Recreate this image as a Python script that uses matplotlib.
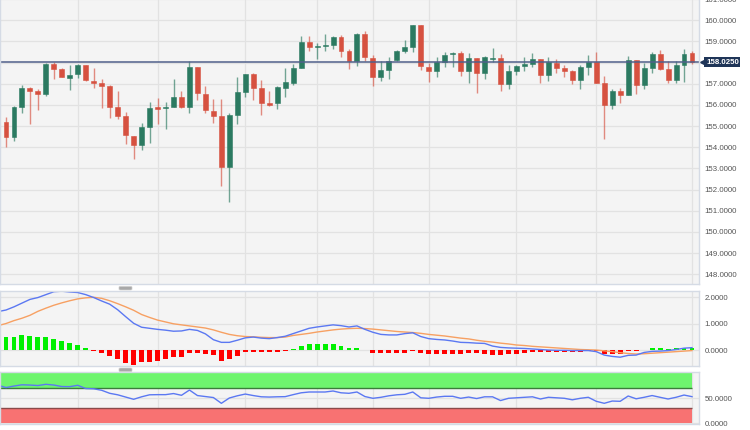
import numpy as np
import matplotlib.pyplot as plt
import matplotlib.transforms as mtransforms
from matplotlib.patches import FancyBboxPatch

plt.rcParams['font.family'] = ['Liberation Sans', 'DejaVu Sans']

# ---- data ----
opens = [155.22, 155.20, 154.47, 155.92, 156.79, 156.66, 156.52, 157.92, 157.69, 157.28,
         157.46, 157.87, 157.15, 157.02, 156.90, 155.89, 155.48, 154.54, 154.13, 154.98,
         155.87, 155.84, 155.89, 156.36, 155.89, 157.78, 156.52, 155.73, 155.48, 153.09,
         155.53, 156.63, 157.46, 156.79, 156.10, 156.08, 156.80, 157.02, 157.76, 158.98,
         158.73, 158.77, 158.83, 159.23, 158.57, 158.09, 159.34, 158.22, 157.34, 157.65,
         158.13, 158.54, 158.76, 159.76, 157.81, 157.59, 158.03, 158.41, 158.44, 157.59,
         158.22, 157.50, 158.17, 158.22, 156.98, 157.59, 157.84, 157.94, 158.17, 157.40,
         158.00, 157.75, 157.62, 157.17, 157.78, 158.03, 157.02, 155.98, 156.66, 156.49,
         158.13, 156.96, 157.73, 158.39, 157.71, 157.18, 157.87, 158.47]
highs = [155.26, 155.42, 155.95, 156.94, 156.83, 156.74, 158.00, 158.03, 157.73, 157.89,
         157.94, 157.91, 157.73, 157.21, 156.94, 156.68, 155.69, 154.54, 155.13, 156.14,
         156.35, 156.16, 157.21, 156.66, 158.08, 157.81, 156.90, 156.27, 156.27, 155.61,
         157.31, 157.46, 157.53, 157.19, 156.66, 156.90, 157.73, 157.94, 159.26, 159.26,
         158.94, 159.35, 159.26, 159.32, 158.63, 159.42, 159.50, 158.36, 158.06, 158.28,
         158.60, 159.07, 159.76, 159.76, 157.97, 158.25, 158.50, 158.50, 158.54, 158.44,
         158.22, 158.31, 158.68, 158.41, 157.91, 157.91, 158.25, 158.44, 158.17, 158.25,
         158.19, 157.91, 157.65, 157.87, 158.38, 158.52, 157.37, 156.77, 156.80, 158.32,
         158.13, 158.00, 158.50, 158.58, 158.06, 158.06, 158.65, 158.54]
lows = [155.15, 154.03, 154.31, 155.64, 155.10, 155.76, 156.43, 157.23, 157.31, 156.71,
        157.28, 157.15, 156.80, 155.86, 155.39, 155.32, 154.16, 153.43, 153.87, 154.19,
        155.10, 154.88, 155.89, 155.85, 155.61, 156.24, 155.64, 155.16, 152.17, 151.42,
        155.10, 156.39, 156.24, 155.53, 155.95, 155.83, 156.36, 156.93, 157.76, 158.57,
        158.19, 158.57, 158.63, 158.28, 157.69, 157.84, 158.09, 156.90, 157.15, 157.24,
        158.09, 158.47, 158.50, 157.65, 157.09, 157.34, 157.81, 157.81, 157.37, 157.02,
        156.58, 157.21, 158.03, 156.68, 156.74, 157.40, 157.59, 157.81, 157.06, 157.15,
        157.53, 157.34, 157.00, 156.74, 157.40, 157.02, 154.41, 155.83, 156.11, 156.46,
        156.52, 156.77, 157.53, 157.65, 157.06, 157.06, 157.09, 157.94]
closes = [155.19, 154.47, 155.89, 156.79, 156.68, 156.54, 157.94, 157.70, 157.31, 157.43,
          157.91, 157.18, 157.02, 156.90, 155.89, 155.48, 154.57, 154.11, 154.98, 155.84,
          155.83, 155.90, 156.36, 155.89, 157.78, 156.55, 155.76, 155.48, 153.09, 155.51,
          156.61, 157.46, 156.79, 156.08, 156.02, 156.83, 157.10, 157.76, 158.99, 158.76,
          158.77, 158.85, 159.23, 158.57, 158.09, 159.34, 158.25, 157.34, 157.65, 158.09,
          158.54, 158.72, 159.76, 157.84, 157.59, 158.03, 158.38, 158.44, 157.59, 158.22,
          157.50, 158.28, 158.22, 156.98, 157.59, 157.84, 157.92, 158.17, 157.40, 158.03,
          157.75, 157.62, 157.17, 157.78, 158.03, 157.02, 155.98, 156.68, 156.49, 158.13,
          156.96, 157.73, 158.39, 157.71, 157.18, 157.87, 158.43, 158.02]

macd = [1.46, 1.52, 1.64, 1.78, 1.92, 1.99, 2.10, 2.21, 2.23, 2.20,
        2.18, 2.10, 1.99, 1.86, 1.74, 1.53, 1.27, 1.02, 0.87, 0.83,
        0.79, 0.76, 0.72, 0.73, 0.79, 0.75, 0.62, 0.40, 0.30, 0.30,
        0.38, 0.47, 0.50, 0.46, 0.44, 0.48, 0.53, 0.63, 0.73, 0.83,
        0.88, 0.92, 0.96, 0.93, 0.88, 0.92, 0.79, 0.68, 0.60, 0.58,
        0.58, 0.63, 0.66, 0.52, 0.44, 0.41, 0.39, 0.35, 0.30, 0.29,
        0.27, 0.26, 0.16, 0.11, 0.09, 0.08, 0.07, 0.05, 0.03, 0.01,
        0.00, 0.00, -0.01, -0.01, -0.01, -0.05, -0.18, -0.23, -0.26, -0.19,
        -0.18, -0.08, -0.04, -0.03, -0.01, 0.03, 0.08, 0.10]
signal = [0.93, 1.01, 1.12, 1.21, 1.32, 1.47, 1.59, 1.70, 1.79, 1.87,
          1.94, 1.98, 2.00, 1.96, 1.87, 1.76, 1.64, 1.51, 1.35, 1.24,
          1.14, 1.07, 1.00, 0.96, 0.92, 0.88, 0.84, 0.77, 0.68, 0.60,
          0.55, 0.52, 0.51, 0.49, 0.48, 0.48, 0.50, 0.56, 0.60, 0.64,
          0.69, 0.73, 0.77, 0.80, 0.82, 0.83, 0.82, 0.80, 0.77, 0.74,
          0.71, 0.69, 0.67, 0.64, 0.60, 0.57, 0.54, 0.50, 0.46, 0.43,
          0.38, 0.34, 0.31, 0.27, 0.24, 0.20, 0.18, 0.15, 0.13, 0.11,
          0.09, 0.07, 0.05, 0.03, 0.02, 0.01, -0.02, -0.05, -0.09, -0.12,
          -0.14, -0.13, -0.11, -0.09, -0.07, -0.05, -0.03, -0.01]
hist = [0.58, 0.49, 0.52, 0.57, 0.54, 0.49, 0.49, 0.43, 0.36, 0.26,
        0.20, 0.10, -0.01, -0.09, -0.21, -0.34, -0.47, -0.55, -0.45, -0.43,
        -0.39, -0.34, -0.26, -0.25, -0.11, -0.11, -0.14, -0.19, -0.39, -0.34,
        -0.21, -0.05, -0.05, -0.05, -0.05, -0.05, -0.01, 0.04, 0.18, 0.23,
        0.23, 0.23, 0.23, 0.16, 0.09, 0.09, 0.02, -0.09, -0.12, -0.12,
        -0.11, -0.09, -0.01, -0.12, -0.14, -0.14, -0.14, -0.14, -0.14, -0.12,
        -0.12, -0.15, -0.16, -0.16, -0.14, -0.14, -0.12, -0.08, -0.07, -0.07,
        -0.06, -0.06, -0.05, -0.05, -0.04, -0.03, -0.14, -0.14, -0.14, -0.04,
        -0.04, 0.00, 0.07, 0.07, 0.04, 0.07, 0.10, 0.10]
rsi = [76.0, 71.5, 74.5, 77.0, 76.5, 75.5, 78.0, 76.5, 73.5, 73.3,
       76.0, 69.5, 69.0, 66.0, 60.0, 57.0, 52.5, 48.0, 53.0, 57.0,
       57.3, 57.3, 59.5, 56.0, 66.5, 55.5, 53.5, 51.5, 40.0, 50.6,
       55.0, 58.5, 55.5, 53.0, 52.5, 53.0, 53.3, 57.3, 61.0, 62.6,
       62.6, 62.6, 64.6, 61.0, 60.0, 62.6, 53.5, 50.0, 52.0, 55.0,
       57.0, 58.0, 62.6, 51.0, 50.0, 52.5, 54.0, 54.0, 50.0, 52.5,
       49.5, 53.0, 53.0, 45.5, 50.0, 51.0, 52.0, 53.0, 48.6, 52.0,
       51.0, 50.0, 47.0, 50.0, 52.0, 44.0, 40.0, 44.5, 44.0, 54.6,
       49.0, 52.0, 55.5, 52.0, 48.6, 52.0, 56.5, 53.3]

last_price = 158.025
grid_idx = [10, 20, 31, 40, 47, 54, 65, 75, 87]
price_ticks = list(range(148, 162))
macd_ticks = [0, 1, 2]
rsi_ticks = [0, 50]

# ---- figure ----
W, H = 750, 430
fig = plt.figure(figsize=(W / 100, H / 100), dpi=100)
fig.patch.set_facecolor('white')


def box(top, bottom, right=699):
    return [0, 1 - bottom / H, right / W, (bottom - top) / H]


ax = fig.add_axes(box(-2, 284.3))
ax_m = fig.add_axes(box(291.3, 366), sharex=ax)
ax_r = fig.add_axes(box(372.3, 424), sharex=ax)

for a in (ax, ax_m, ax_r):
    a.set_facecolor('#f4f4f4')
    for s in a.spines.values():
        s.set_color('#d5dbe5')
        s.set_linewidth(1)
    a.yaxis.tick_right()
    a.tick_params(axis='y', length=0, pad=4, labelsize=5.7, labelcolor='#555555')
    a.tick_params(axis='x', length=0, labelbottom=False)
    a.set_xticks(grid_idx)
    a.grid(True, color='#e2e2e2', lw=0.9)
    a.set_axisbelow(True)

x = np.arange(len(opens))
o, h, l, c = map(np.array, (opens, highs, lows, closes))
up = c >= o
green, red = '#2b7a61', '#d65140'
cols = np.where(up, green, red)

ax.vlines(x, l, h, colors=cols, lw=1, alpha=0.65)
body_lo = np.minimum(o, c)
body_h = np.maximum(np.abs(c - o), 0.05)
ax.bar(x, body_h, bottom=body_lo, width=0.62, color=cols, edgecolor=cols, lw=0.4)
ax.axhline(last_price, color='#50608a', lw=1.1)

ax.set_xlim(0.248, 87.88)
ax.set_ylim(147.524, 161.054)
ax.set_yticks(price_ticks)
# the 158 label sits behind the last-price tag in the reference
ax.set_yticklabels(['' if v == 158 else '%.4f' % v for v in price_ticks])

trans = mtransforms.blended_transform_factory(ax.transAxes, ax.transData)
ax.text(1.01, last_price, '%.4f' % last_price, transform=trans, ha='left', va='center',
        color='white', fontweight='bold', fontsize=5.7,
        bbox=dict(boxstyle='square,pad=0.2', fc='#1f3558', ec='none'), clip_on=False)
ax.plot([1.0055], [last_price], marker='<', ms=3.8, color='#1f3558', transform=trans,
        clip_on=False)

# ---- MACD ----
hcols = np.where(np.array(hist) >= 0, '#00f000', '#ff0000')
ax_m.bar(x, hist, width=0.62, color=hcols, lw=0)
ax_m.plot(x, signal, color='#f7a062', lw=1)
ax_m.plot(x, macd, color='#5b78f2', lw=1)
ax_m.set_ylim(-0.592, 2.226)
ax_m.set_yticks(macd_ticks)
ax_m.set_yticklabels(['%.4f' % v for v in macd_ticks])

# ---- RSI ----
ax_r.fill_between([x[0], x[-1]], 70, 100, color='#6ef56e', lw=0)
ax_r.fill_between([x[0], x[-1]], 0, 30, color='#f87272', lw=0)
ax_r.hlines([70], x[0], x[-1], color='#3b7d3b', lw=1)
ax_r.hlines([30], x[0], x[-1], color='#8a4a4a', lw=1)
ax_r.plot(x, rsi, color='#5b78f2', lw=1)
ax_r.set_ylim(-1.4, 102)
ax_r.set_yticks(rsi_ticks)
ax_r.set_yticklabels(['%.4f' % v for v in rsi_ticks])

# separator handles
for yc in (288.2, 369.8):
    fig.patches.append(FancyBboxPatch((119 / W, 1 - (yc + 1.8) / H), 13 / W, 3.6 / H,
                                      boxstyle='round,pad=0,rounding_size=0.002',
                                      transform=fig.transFigure, fc='#a8a8a8',
                                      ec='#d0d0d0', lw=0.5))

fig.savefig('out.png', dpi=100, facecolor='white')
